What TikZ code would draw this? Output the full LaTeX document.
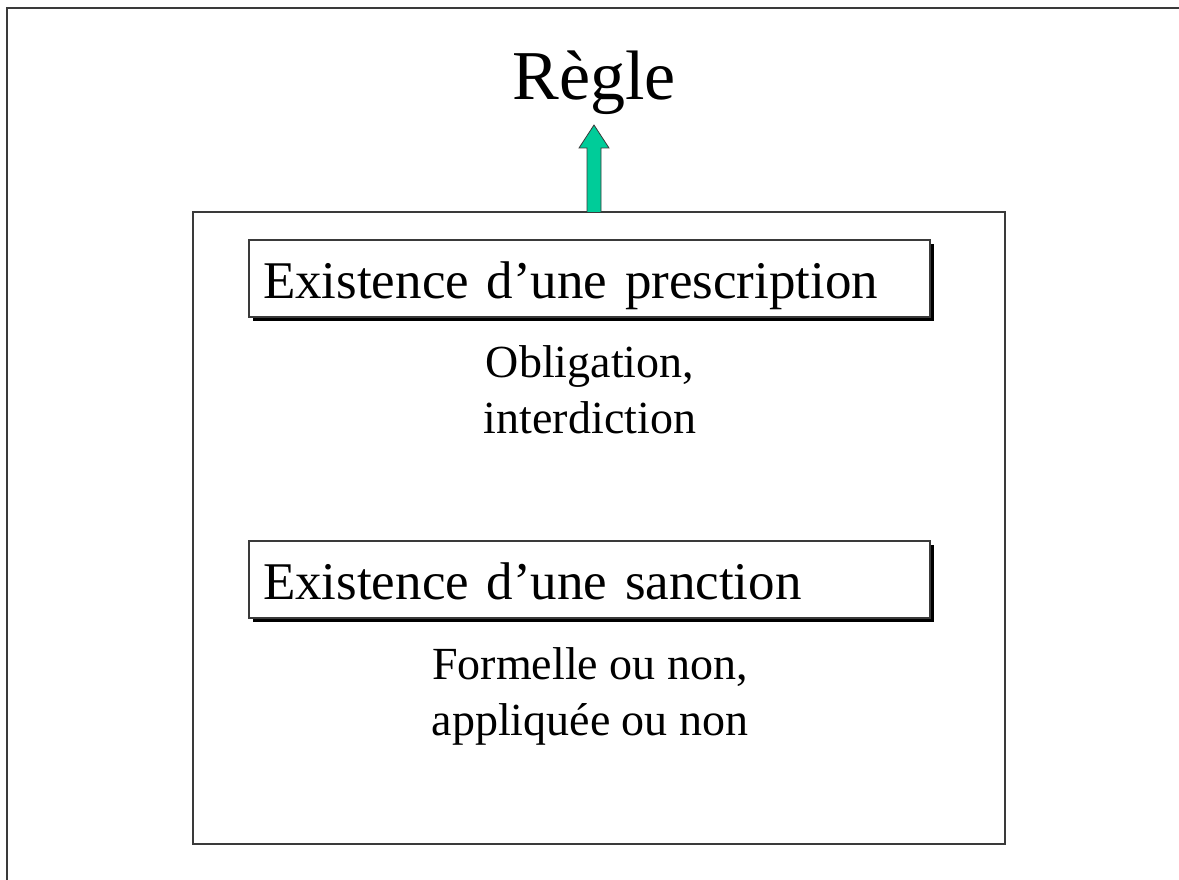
\documentclass[tikz,border=0pt]{standalone}
\usepackage{fontspec}
\setmainfont{Liberation Serif}
\usetikzlibrary{shadows,calc}
\definecolor{framegray}{HTML}{3A3A3A}
\definecolor{arrowgreen}{HTML}{00CC99}
\tikzset{
  frameline/.style={draw=framegray, line width=1.3pt},
  titlebox/.style={rectangle, draw=framegray, line width=1.2pt, fill=white,
    minimum width=681pt, minimum height=77pt, inner sep=0pt,
    text width=653pt, align=left, text height=40pt, text depth=0pt,
    font=\fontsize{53}{64}\selectfont,
    drop shadow={shadow xshift=4pt, shadow yshift=-4pt, fill=black, opacity=1}},
  bodytext/.style={anchor=base, align=center, inner sep=0pt,
    font=\fontsize{46}{56}\selectfont},
}
\begin{document}
\begin{tikzpicture}[x=1pt, y=-1pt]
  \useasboundingbox (0,0) rectangle (1179,880);
  % page frame, open to the right and bottom
  \draw[frameline] (7,880) -- (7,8) -- (1179,8);
  % title
  \node[anchor=base, inner sep=0pt, font=\fontsize{70}{84}\selectfont] (title) at (594,100) {Règle};
  % enclosing box
  \node[frameline, rectangle, minimum width=812pt, minimum height=632pt, inner sep=0pt] (group) at (599,528) {};
  % the two criteria (notes are anchored on the baseline of their last line)
  \node[titlebox] (presc) at (589.5,278.5) {Existence d’une prescription};
  \node[bodytext] (prescnote) at (590,433) {Obligation,\\interdiction};
  \node[titlebox] (sanct) at (589.5,579.5) {Existence d’une sanction};
  \node[bodytext] (sanctnote) at (590,735) {Formelle ou non,\\appliquée ou non};
  % block arrow from the box up to the title
  \coordinate (abase) at (594,212);
  \draw[draw=framegray, line width=0.8pt, fill=arrowgreen, line join=miter]
    ($(abase)+(-7,0)$) -- ++(0,-64) -- ++(-8,0) -- ($(abase)+(0,-87)$)
    -- ($(abase)+(15,-64)$) -- ++(-8,0) -- ($(abase)+(7,0)$);
\end{tikzpicture}
\end{document}
